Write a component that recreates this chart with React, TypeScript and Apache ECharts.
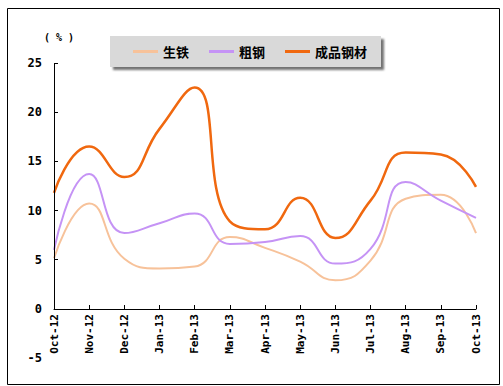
import React, { useEffect, useRef } from "react";
import * as echarts from "echarts";

const categories = ["Oct-12", "Nov-12", "Dec-12", "Jan-13", "Feb-13", "Mar-13", "Apr-13", "May-13", "Jun-13", "Jul-13", "Aug-13", "Sep-13", "Oct-13"];
const pigIron = [5.15, 10.7, 5.1, 4.1, 4.3, 7.3, 6.2, 4.8, 2.9, 4.9, 11.2, 11.6, 7.7];
const crudeSteel = [6.0, 13.7, 7.7, 8.7, 9.7, 6.6, 6.8, 7.4, 4.6, 6.1, 12.9, 11.0, 9.25];
const finishedSteel = [11.8, 16.5, 13.4, 18.3, 22.5, 8.9, 8.1, 11.3, 7.2, 11.0, 15.9, 15.7, 12.4];
const seriesNames = ["生铁", "粗钢", "成品钢材"];
const yTicks = [0, 5, 10, 15, 20, 25];

export default function App() {
  const ref = useRef<HTMLDivElement>(null);
  useEffect(() => {
    const chart = echarts.init(ref.current!, null, { renderer: "svg" });
    const labelFont = { fontFamily: "DejaVu Sans Mono", fontWeight: "bold" as const, color: "#000" };
    chart.setOption({
      animation: false,
      backgroundColor: "#fff",
      grid: { left: 54, right: 27, top: 63, bottom: 28, containLabel: false, outerBoundsMode: "none" },
      graphic: [
        { type: "rect", left: 5, top: 6, shape: { width: 492, height: 376 }, style: { fill: "none", stroke: "#000", lineWidth: 1 } },
        { type: "text", left: 44, top: 32, style: { text: "( % )", font: "bold 10px 'DejaVu Sans Mono'", fill: "#000" } },
      ],
      legend: {
        left: 110,
        top: 36,
        padding: [9, 14, 9, 23],
        itemGap: 20,
        itemWidth: 25,
        itemHeight: 3,
        icon: "rect",
        backgroundColor: "#D9D9D9",
        shadowColor: "rgba(0,0,0,0.55)",
        shadowBlur: 2,
        shadowOffsetX: 3,
        shadowOffsetY: 3,
        textStyle: { fontFamily: "Noto Sans CJK SC", fontWeight: "bold", fontSize: 13, color: "#000", padding: [0, 0, 0, 0] },
        data: seriesNames,
      },
      xAxis: {
        type: "category",
        data: categories,
        boundaryGap: false,
        position: "bottom",
        offset: -49,
        axisLine: { onZero: false, lineStyle: { color: "#000", width: 1 } },
        axisTick: { inside: true, length: 4, lineStyle: { color: "#000" } },
        axisLabel: { ...labelFont, fontSize: 11, rotate: 90, margin: 5, interval: 0 },
        splitLine: { show: false },
      },
      yAxis: {
        type: "value",
        min: -5,
        max: 25,
        interval: 5,
        axisLine: { show: false },
        axisTick: { show: true, inside: true, length: 4, customValues: yTicks, lineStyle: { color: "#000" } },
        axisLabel: { ...labelFont, fontSize: 12, margin: 12 },
        splitLine: { show: false },
      },
      series: [
        {
          name: seriesNames[0], type: "line", data: pigIron, smooth: 0.5, showSymbol: false, symbol: "none",
          lineStyle: { color: "#F7C29A", width: 2 }, itemStyle: { color: "#F7C29A" }, z: 2,
        },
        {
          name: seriesNames[1], type: "line", data: crudeSteel, smooth: 0.5, showSymbol: false, symbol: "none",
          lineStyle: { color: "#C593F5", width: 2 }, itemStyle: { color: "#C593F5" }, z: 3,
        },
        {
          name: seriesNames[2], type: "line", data: finishedSteel, smooth: 0.5, showSymbol: false, symbol: "none",
          lineStyle: { color: "#F0680F", width: 2.5 }, itemStyle: { color: "#F0680F" }, z: 4,
          markLine: {
            silent: true, symbol: "none", label: { show: false },
            lineStyle: { color: "#000", width: 1, type: "solid" },
            data: [[{ coord: [categories[0], 0] }, { coord: [categories[0], 25] }]],
          },
        },
      ],
    });
    return () => chart.dispose();
  }, []);
  return <div ref={ref} style={{ width: 503, height: 386, position: "absolute", left: 0, top: 0 }} />;
}
